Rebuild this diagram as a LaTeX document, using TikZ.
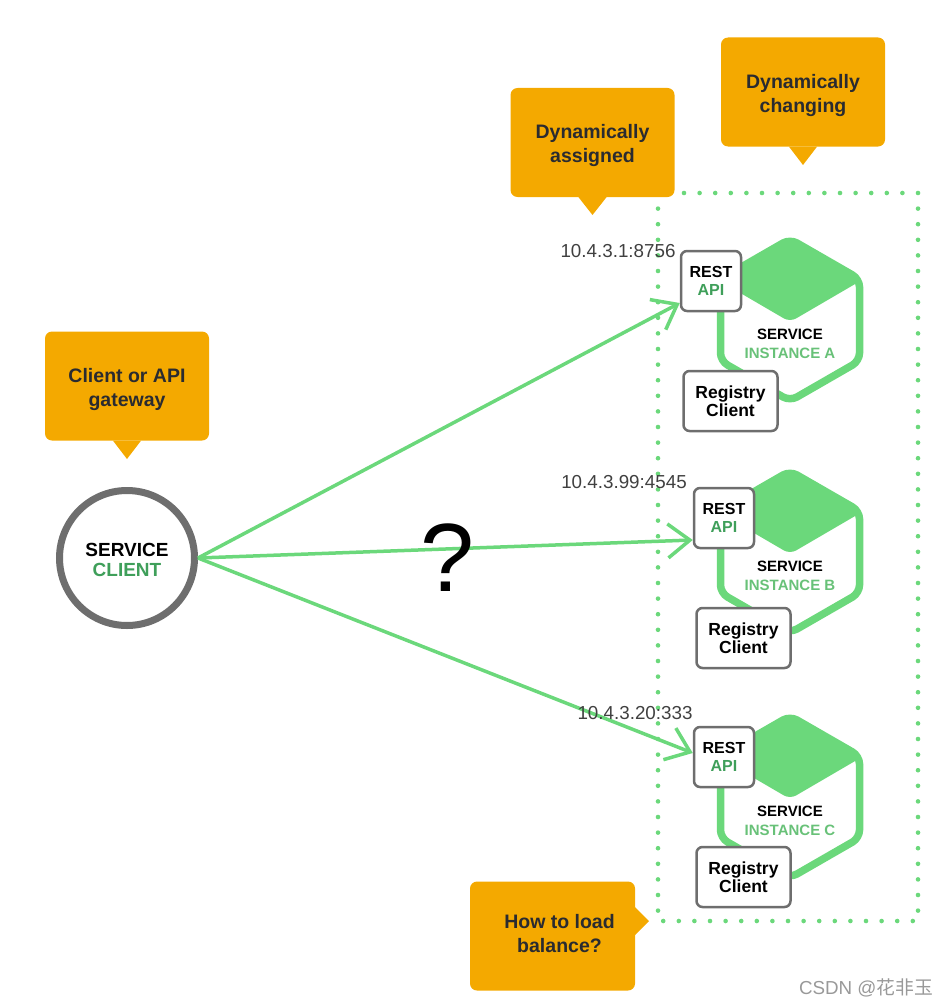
\documentclass[tikz,border=0pt]{standalone}
\usepackage{fontspec}
\setmainfont{Liberation Sans}
\newfontfamily\cjk{Noto Sans CJK SC}
\usetikzlibrary{arrows.meta}
\definecolor{tagorange}{HTML}{F4A900}
\definecolor{linegreen}{HTML}{6BD87B}
\definecolor{apigreen}{HTML}{3F9F5A}
\definecolor{instgreen}{HTML}{68C178}
\definecolor{boxgray}{HTML}{6E6E6E}
\definecolor{tagtext}{HTML}{2A2B30}
\tikzset{
  tagbox/.style={fill=tagorange,rounded corners=7pt,minimum width=164pt,minimum height=109pt,inner sep=0pt,
    align=center,text=tagtext,text height=45pt,font=\fontsize{19.5}{24}\selectfont\bfseries},
  tagtip/.style={fill=tagorange},
  smallbox/.style={draw=boxgray,line width=2.5pt,fill=white,rounded corners=6pt,inner sep=0pt,
    align=center,font=\fontsize{16}{18.5}\selectfont\bfseries},
  ipaddr/.style={text=black!75,font=\fontsize{18.8}{20}\selectfont},
  callline/.style={draw=linegreen,line width=3.5pt,-{Straight Barb[length=22pt,width=34pt]}},
}
\begin{document}
\begin{tikzpicture}[x=1pt,y=-1pt]
\useasboundingbox (0,0) rectangle (945,1006);
\draw[linegreen,line width=4.6pt,line cap=round,dash pattern=on 0pt off 15.6pt] (658,193) rectangle (918,921);
% service instances
\foreach \inst/\cy/\rx/\ry/\gy in {A/320/711/281/401,B/552/724/518/638,C/797/724/757/877} {
  \fill[linegreen,rounded corners=7pt] (790,\cy-82) -- (862,\cy-40) -- (790,\cy+2) -- (718,\cy-40) -- cycle;
  \draw[linegreen,line width=7.5pt,rounded corners=8pt] (790,\cy-81) -- (859.5,\cy-41) -- (859.5,\cy+41)
    -- (790,\cy+81) -- (720.5,\cy+41) -- (720.5,\cy-41) -- cycle;
  \node[align=center,font=\fontsize{15}{19}\selectfont\bfseries] (inst\inst) at (790,\cy+24)
    {SERVICE\\\textcolor{instgreen}{INSTANCE \inst}};
  \node[smallbox,minimum width=60pt,minimum height=60pt] (rest\inst) at (\rx,\ry)
    {REST\\\textcolor{apigreen}{API}};
  \node[smallbox,minimum width=94pt,minimum height=60pt,font=\fontsize{17.5}{18}\selectfont\bfseries] (reg\inst) at (\rx+19.5,\gy)
    {Registry\\Client};
}
% client
\node[circle,draw=boxgray,line width=7pt,fill=white,minimum size=135pt,inner sep=0pt,align=center,
  text height=38pt,font=\fontsize{19}{20}\selectfont\bfseries] (client) at (127,558)
  {SERVICE\\\textcolor{apigreen}{CLIENT}};
\draw[callline] (client.east) -- ([yshift=-22pt]restA.west);
\draw[callline] (client.east) -- ([yshift=-22pt]restB.west);
\draw[callline] (client.east) -- ([yshift=4pt]restC.west);
\node[font=\fontsize{97}{100}\selectfont] (ask) at (447.5,558) {?};
% addresses
\node[ipaddr] (ipA) at (618,251) {10.4.3.1:8756};
\node[ipaddr] (ipB) at (624,482) {10.4.3.99:4545};
\node[ipaddr] (ipC) at (635,713) {10.4.3.20:333};
% orange tags
\node[tagbox] (assigned) at (592.5,142.5) {Dynamically\\assigned};
\fill[tagtip] ([xshift=-14pt]assigned.south) -- (592.5,215) -- ([xshift=14pt]assigned.south) -- cycle;
\node[tagbox] (changing) at (803,92) {Dynamically\\changing};
\fill[tagtip] ([xshift=-14pt]changing.south) -- (803,165) -- ([xshift=14pt]changing.south) -- cycle;
\node[tagbox] (gateway) at (127,386) {Client or API\\gateway};
\fill[tagtip] ([xshift=-14pt]gateway.south) -- (127,459) -- ([xshift=14pt]gateway.south) -- cycle;
\node[tagbox,minimum width=165pt,text height=33pt] (balance) at (552.5,936)
  {\hspace*{14pt}How to load\\\hspace*{14pt}balance?};
\fill[tagtip] (635,907) -- (649,921) -- (635,935) -- cycle;
\node[text=black!40,font=\fontsize{18.8}{20}\selectfont] (mark) at (866,988) {CSDN @{\cjk 花非玉}};
\end{tikzpicture}
\end{document}
